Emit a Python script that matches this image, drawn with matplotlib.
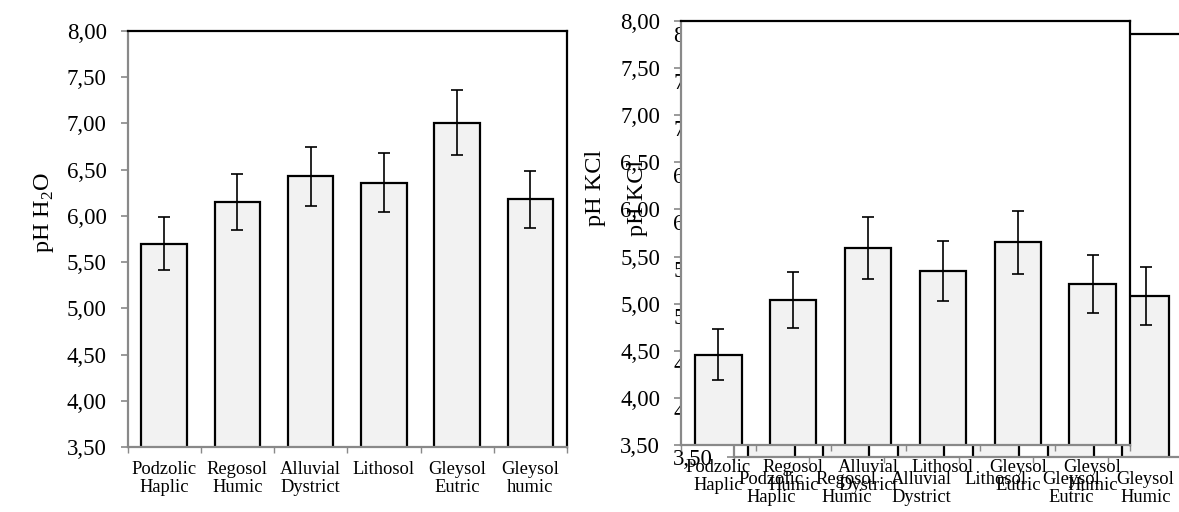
import numpy as np
import matplotlib.pyplot as plt
from matplotlib.ticker import FixedLocator, FuncFormatter

plt.rcParams['font.family'] = ['Liberation Serif', 'DejaVu Serif']
plt.rcParams['mathtext.fontset'] = 'custom'
plt.rcParams['mathtext.rm'] = 'Liberation Serif'

# data
soils_h2o = ["Podzolic\nHaplic", "Regosol\nHumic", "Alluvial\nDystrict",
             "Lithosol", "Gleysol\nEutric", "Gleysol\nhumic"]
soils_kcl = ["Podzolic\nHaplic", "Regosol\nHumic", "Alluvial\nDystrict",
             "Lithosol", "Gleysol\nEutric", "Gleysol\nHumic"]
ph_h2o = [5.70, 6.15, 6.43, 6.36, 7.01, 6.18]
err_h2o = [0.29, 0.30, 0.32, 0.32, 0.35, 0.31]
ph_kcl = [4.46, 5.04, 5.59, 5.35, 5.65, 5.21]
err_kcl = [0.27, 0.30, 0.33, 0.32, 0.33, 0.31]
yticks = [3.5, 4.0, 4.5, 5.0, 5.5, 6.0, 6.5, 7.0, 7.5, 8.0]

GRAY = '#898989'
W, H = 1179, 512


def px_axes(fig, x0, y0, x1, y1):
    # pixel box (top-left origin) -> figure fraction axes
    return fig.add_axes([x0 / W, (H - y1) / H, (x1 - x0) / W, (y1 - y0) / H])


def bar_panel(ax, labels, vals, errs):
    x = np.arange(len(vals))
    ax.bar(x, vals, width=0.62, color='#f2f2f2', edgecolor='black', linewidth=1.6, zorder=2)
    ax.errorbar(x, vals, yerr=errs, fmt='none', ecolor='black', elinewidth=1.2,
                capsize=4.5, capthick=1.2, zorder=3)
    ax.set_xlim(-0.5, len(vals) - 0.5)
    ax.set_ylim(3.5, 8.0)
    ax.yaxis.set_major_locator(FixedLocator(yticks))
    ax.yaxis.set_major_formatter(FuncFormatter(lambda v, p: f"{v:.2f}".replace('.', ',')))
    ax.set_xticks(x)
    ax.set_xticklabels(labels, fontsize=13.3, linespacing=1.1)
    ax.set_xticks(np.arange(len(vals) + 1) - 0.5, minor=True)
    ax.tick_params(axis='x', which='major', length=0, pad=10)
    ax.tick_params(axis='x', which='minor', length=4, color=GRAY, width=1)
    ax.tick_params(axis='y', length=5, color=GRAY, width=1.2, pad=10, labelsize=16.5)
    for s in ['left', 'bottom']:
        ax.spines[s].set_color(GRAY)
        ax.spines[s].set_linewidth(1.6)
    for s in ['top', 'right']:
        ax.spines[s].set_color('black')
        ax.spines[s].set_linewidth(1.6)
    ax.set_facecolor('white')


fig = plt.figure(figsize=(W / 100, H / 100), dpi=100)

# left chart
ax1 = px_axes(fig, 127.5, 31, 567, 447)
bar_panel(ax1, soils_h2o, ph_h2o, err_h2o)
fig.text(44 / W, 1 - 212 / H, r'pH H$_2$O', rotation=90, ha='center', va='center', fontsize=17.5)

# right chart: a shifted copy sitting behind the front one
ax_back = px_axes(fig, 734, 34, 1183, 457)
bar_panel(ax_back, soils_kcl, ph_kcl, err_kcl)
fig.text(637 / W, 1 - 198 / H, 'pH KCl', rotation=90, ha='center', va='center', fontsize=17.5)

ax_front = px_axes(fig, 681, 21, 1130, 445)
bar_panel(ax_front, soils_kcl, ph_kcl, err_kcl)
fig.text(596 / W, 1 - 188 / H, 'pH KCl', rotation=90, ha='center', va='center', fontsize=17.5)

fig.savefig('out.png', dpi=100)
